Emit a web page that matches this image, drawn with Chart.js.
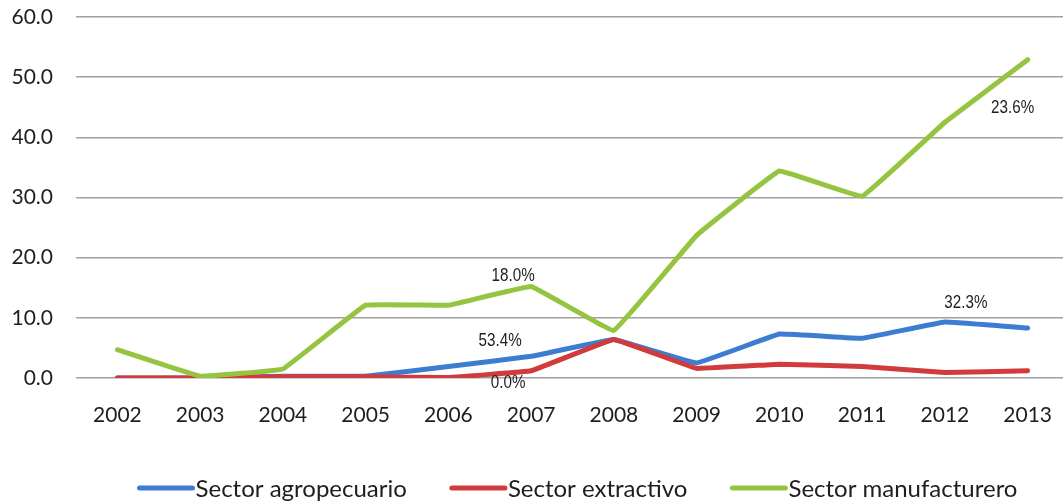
<!DOCTYPE html>
<html>
<head>
<meta charset="utf-8">
<script src="https://cdn.jsdelivr.net/npm/chart.js@4.4.1/dist/chart.umd.min.js"></script>
<style>
  html, body { margin: 0; padding: 0; background: #ffffff; overflow: hidden; }
  canvas { display: block; }
</style>
</head>
<body>
<canvas id="c" width="1069" height="502" style="width:1069px;height:502px"></canvas>
<script>
const years = ['2002','2003','2004','2005','2006','2007','2008','2009','2010','2011','2012','2013'];
const agropecuario  = [0.0, 0.0, 0.3, 0.3, 1.9, 3.6, 6.4, 2.5, 7.3, 6.6, 9.3, 8.3];
const extractivo    = [0.0, 0.0, 0.2, 0.2, 0.1, 1.2, 6.4, 1.6, 2.3, 1.9, 0.9, 1.2];
const manufacturero = [4.7, 0.3, 1.5, 12.1, 12.1, 15.2, 7.9, 23.7, 34.4, 30.2, 42.5, 52.9];
const seriesNames = ['Sector agropecuario', 'Sector extractivo', 'Sector manufacturero'];
const yTicks = [0, 10, 20, 30, 40, 50, 60];
// annotations: [datasetIndex, pointIndex, text]
const annotations = [
  [1, 5, '0.0%'],
  [0, 5, '53.4%'],
  [2, 5, '18.0%'],
  [0, 10, '32.3%'],
  [2, 11, '23.6%']
];
const annotationOffsets = [[-23, 12], [-31, -16], [-18, -11], [21, -19], [-15, 48]];

const colors = ['#3D7DD1', '#D13B3B', '#95C440'];

const labelPlugin = {
  id: 'pointLabels',
  afterDatasetsDraw(chart) {
    const ctx = chart.ctx;
    annotations.forEach((a, k) => {
      const pt = chart.getDatasetMeta(a[0]).data[a[1]];
      ctx.save();
      ctx.translate(pt.x + annotationOffsets[k][0], pt.y + annotationOffsets[k][1]);
      ctx.scale(0.8, 1);
      ctx.font = '19px "Liberation Sans", Arial, sans-serif';
      ctx.fillStyle = '#1e1e1e';
      ctx.textAlign = 'center';
      ctx.textBaseline = 'middle';
      ctx.fillText(a[2], 0, 0);
      ctx.restore();
    });
  }
};

const legendPlugin = {
  id: 'customLegend',
  afterDraw(chart) {
    const ctx = chart.ctx;
    ctx.save();
    ctx.font = '24px Lato, sans-serif';
    const lineLen = 57, gap = 43, textGap = 1;
    const ds = chart.data.datasets;
    const widths = ds.map(d => lineLen + textGap + ctx.measureText(d.label).width);
    const total = widths.reduce((s, w) => s + w, 0) + gap * (ds.length - 1);
    const ca = chart.chartArea;
    let x = (ca.left + ca.right) / 2 + 5 - total / 2;
    const y = 488;
    ds.forEach((d, i) => {
      ctx.strokeStyle = d.borderColor;
      ctx.lineWidth = 5;
      ctx.lineCap = 'round';
      ctx.beginPath();
      ctx.moveTo(x + 2, y);
      ctx.lineTo(x + lineLen - 2, y);
      ctx.stroke();
      ctx.fillStyle = '#1e1e1e';
      ctx.textAlign = 'left';
      ctx.textBaseline = 'middle';
      ctx.fillText(d.label, x + lineLen + textGap, y + 1);
      x += widths[i] + gap;
    });
    ctx.restore();
  }
};

function mkDataset(label, data, color, order) {
  return {
    label: label,
    data: data,
    borderColor: color,
    backgroundColor: color,
    borderWidth: 5,
    pointRadius: 0,
    pointHoverRadius: 0,
    tension: 0.05,
    borderCapStyle: 'round',
    borderJoinStyle: 'round',
    fill: false,
    order: order
  };
}

new Chart(document.getElementById('c'), {
  type: 'line',
  data: {
    labels: years,
    datasets: [
      mkDataset(seriesNames[0], agropecuario, colors[0], 2),
      mkDataset(seriesNames[1], extractivo, colors[1], 1),
      mkDataset(seriesNames[2], manufacturero, colors[2], 0)
    ]
  },
  options: {
    responsive: false,
    maintainAspectRatio: false,
    animation: false,
    events: [],
    layout: { padding: { top: 17, right: 0, bottom: 74, left: 0 } },
    plugins: {
      legend: { display: false },
      tooltip: { enabled: false },
      title: { display: false }
    },
    scales: {
      x: {
        type: 'category',
        offset: true,
        afterFit(scale) {
          scale.height = 50;
          scale.paddingLeft = 0;
          scale.paddingRight = 0;
        },
        grid: { display: false, drawTicks: false },
        border: { display: false },
        ticks: {
          color: '#1e1e1e',
          font: { family: 'Lato, sans-serif', size: 21 },
          padding: 25,
          maxRotation: 0,
          autoSkip: false
        }
      },
      y: {
        min: 0,
        max: 60,
        afterBuildTicks(scale) { scale.ticks = yTicks.map(v => ({ value: v })); },
        afterFit(scale) {
          scale.width = 76;
          scale.paddingTop = 0;
          scale.paddingBottom = 0;
        },
        grid: { color: '#a0a0a0', lineWidth: 1.5, drawTicks: false },
        border: { display: false },
        ticks: {
          color: '#1e1e1e',
          font: { family: 'Lato, sans-serif', size: 21 },
          padding: 23,
          callback: v => Number(v).toFixed(1)
        }
      }
    }
  },
  plugins: [labelPlugin, legendPlugin]
});
</script>
</body>
</html>
